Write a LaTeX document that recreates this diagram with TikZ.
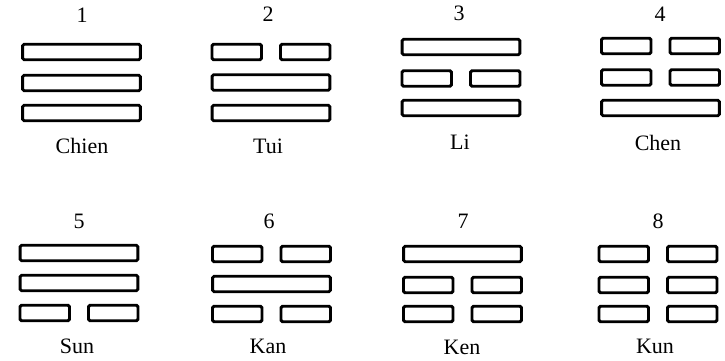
\documentclass[tikz,border=0pt]{standalone}
\usepackage{fontspec}
\setmainfont{Liberation Serif}
\newcommand\yangbar[3]{\node[solidbar] (#1) at (#2,#3) {};}
\newcommand\yinbar[3]{\node[halfbar] (#1l) at ({#2-34.25},#3) {};\node[halfbar] (#1r) at ({#2+34.25},#3) {};}
\begin{document}
\begin{tikzpicture}[x=1pt,y=-1pt,
  bar/.style={draw, line width=2.9pt, rounded corners=1.5pt, minimum height=15.5pt, inner sep=0pt, outer sep=0pt},
  solidbar/.style={bar, minimum width=117.8pt},
  halfbar/.style={bar, minimum width=49.5pt},
  lbl/.style={font=\fontsize{22}{22}\selectfont, inner sep=0pt, anchor=base}]
\useasboundingbox (0,0) rectangle (725,360);
% 1 Chien
\node[lbl] (n1) at (82,22) {1};
\yangbar{t1a}{81.5}{52}\yangbar{t1b}{81.5}{83}\yangbar{t1c}{81.5}{113}
\node[lbl] (l1) at (82,153) {Chien};
% 2 Tui
\node[lbl] (n2) at (268,21) {2};
\yinbar{t2a}{271}{52}\yangbar{t2b}{271}{82.5}\yangbar{t2c}{271}{113}
\node[lbl] (l2) at (268,153) {Tui};
% 3 Li
\node[lbl] (n3) at (459,20) {3};
\yangbar{t3a}{461}{47}\yinbar{t3b}{461}{78.5}\yangbar{t3c}{461}{108}
\node[lbl] (l3) at (460,149) {Li};
% 4 Chen
\node[lbl] (n4) at (660,21) {4};
\yinbar{t4a}{660.5}{46}\yinbar{t4b}{660.5}{77.5}\yangbar{t4c}{660.5}{108}
\node[lbl] (l4) at (658,150) {Chen};
% 5 Sun
\node[lbl] (n5) at (79,228) {5};
\yangbar{t5a}{79}{253}\yangbar{t5b}{79}{283}\yinbar{t5c}{79}{313}
\node[lbl] (l5) at (77,353) {Sun};
% 6 Kan
\node[lbl] (n6) at (269,228) {6};
\yinbar{t6a}{271.5}{254}\yangbar{t6b}{271.5}{284}\yinbar{t6c}{271.5}{314}
\node[lbl] (l6) at (268,353) {Kan};
% 7 Ken
\node[lbl] (n7) at (463,228) {7};
\yangbar{t7a}{462.5}{254}\yinbar{t7b}{462.5}{285}\yinbar{t7c}{462.5}{314}
\node[lbl] (l7) at (462,354) {Ken};
% 8 Kun
\node[lbl] (n8) at (658,228) {8};
\yinbar{t8a}{658}{254}\yinbar{t8b}{658}{285}\yinbar{t8c}{658}{314}
\node[lbl] (l8) at (655,353) {Kun};
\end{tikzpicture}
\end{document}
